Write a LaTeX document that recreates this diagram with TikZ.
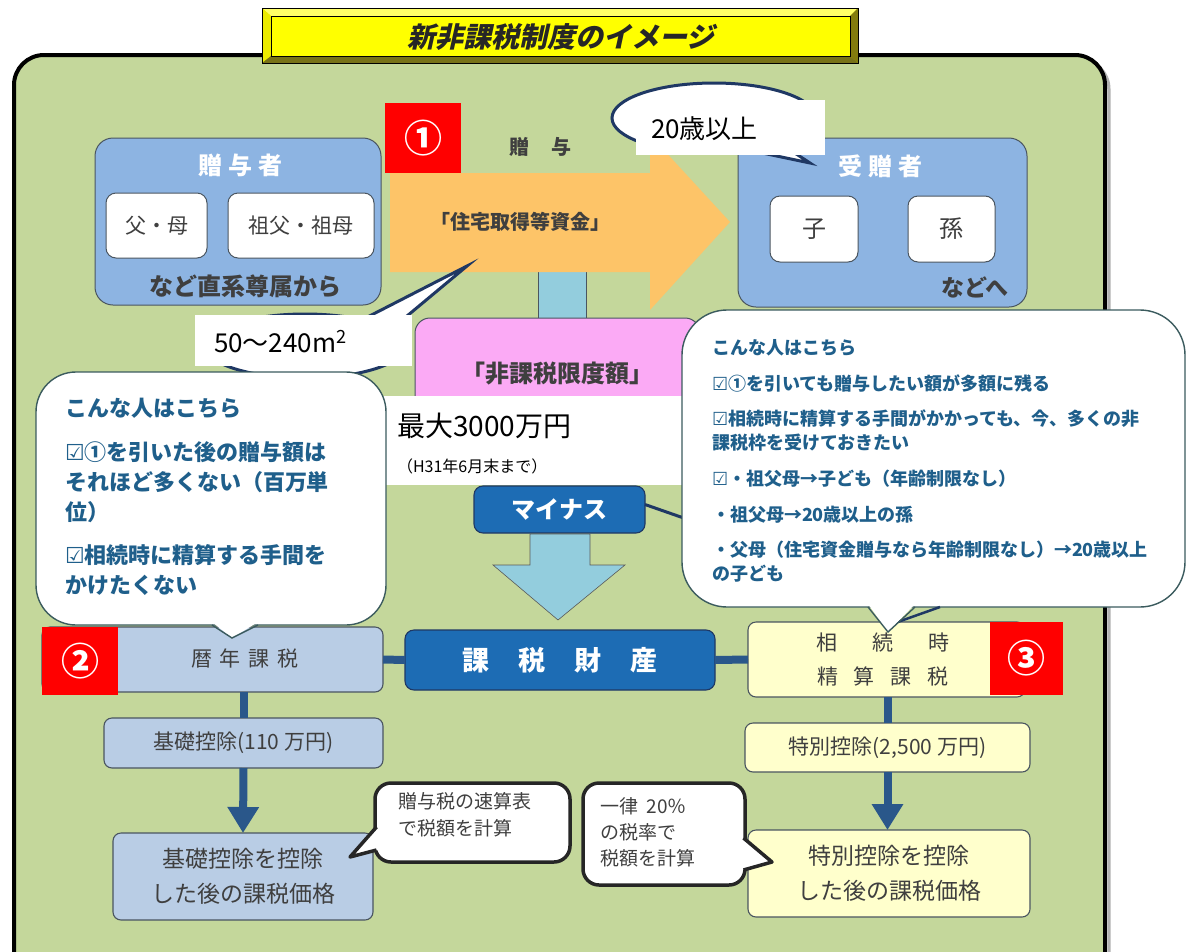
\documentclass[tikz,border=0pt]{standalone}
\usepackage{fontspec}
\setmainfont{Noto Sans CJK JP}
\newfontfamily\dv{DejaVu Sans}
\newfontfamily\jpslant{Noto Sans CJK JP}[FakeSlant=0.22]
\usetikzlibrary{arrows.meta,calc}
\definecolor{bggreen}{HTML}{C4D79B}
\definecolor{donor}{HTML}{8DB4E2}
\definecolor{ltblue}{HTML}{B9CDE5}
\definecolor{dkblue}{HTML}{1D6CB4}
\definecolor{navy}{HTML}{1F3864}
\definecolor{barblue}{HTML}{2A578A}
\definecolor{ltyel}{HTML}{FFFFCC}
\definecolor{orng}{HTML}{FDC468}
\definecolor{pinkc}{HTML}{FBAAF5}
\definecolor{cyanc}{HTML}{93CDDD}
\definecolor{tealtxt}{HTML}{1F5F8B}
\definecolor{txt}{HTML}{3F3F3F}
\definecolor{edge}{HTML}{4A5560}
\definecolor{cedge}{HTML}{3B5B5E}
\definecolor{ttlyel}{HTML}{FFFF00}
\newcommand{\fsz}[1]{\fontsize{#1}{#1}\selectfont}
\newcommand{\chk}{{\dv ☑}}
\begin{document}
\begin{tikzpicture}[x=1pt,y=-1pt,
  every node/.style={inner sep=0pt,outer sep=0pt},
  bluebox/.style={draw=edge,fill=donor,line width=1pt,rounded corners=18pt},
  wbox/.style={draw=edge,fill=white,line width=1pt,rounded corners=10pt,text=txt},
  ltbox/.style={draw=edge,fill=ltblue,line width=1.1pt,rounded corners=8pt,text=txt,align=center},
  ybox/.style={draw=edge,fill=ltyel,line width=1.1pt,rounded corners=8pt,text=txt,align=center},
  dkbox/.style={draw=navy,fill=dkblue,line width=1.1pt,rounded corners=9pt,text=white},
  redsq/.style={fill=red,text=white,font=\bfseries\fsz{38}},
  bar/.style={draw=barblue,line width=8pt},
  callbox/.style={draw=black!85,fill=white,line width=3.5pt,rounded corners=16pt},
  bigcall/.style={draw=cedge,fill=white,line width=1.4pt},
  lt/.style={anchor=west,text=tealtxt,font=\bfseries\fsz{22}},
  rt/.style={anchor=west,text=tealtxt,font=\bfseries\fsz{18}},
]
\useasboundingbox (0,0) rectangle (1200,951);
\fill[white] (0,0) rectangle (1200,951);
% green panel
\draw[gray!60,line width=3pt,rounded corners=30pt] (18,59) rectangle (1109,1010);
\draw[black,fill=bggreen,line width=4pt,rounded corners=30pt] (14,55) rectangle (1105,1010);

% title
\fill[ttlyel!70!olive] (262,8) rectangle (858,63);
\fill[ttlyel!60!white] (262,8) -- (858,8) -- (850,16) -- (271,16) -- cycle;
\fill[ttlyel!85!olive] (262,8) -- (271,16) -- (271,56) -- (262,63) -- cycle;
\fill[olive!90!black] (858,8) -- (858,63) -- (850,56) -- (850,16) -- cycle;
\fill[olive!80!black] (262,63) -- (858,63) -- (850,56) -- (271,56) -- cycle;
\draw[black,line width=0.8pt] (262,8) rectangle (858,63);
\node[draw=black,line width=0.6pt,fill=ttlyel,minimum width=579pt,minimum height=40pt] (titlebox) at (560.5,36) {};
\node[font=\jpslant\bfseries\fsz{28},text=black!85] (title) at (561,37) {新非課税制度のイメージ};

% donor box
\node[bluebox,minimum width=286pt,minimum height=167pt] (donor) at (238,221.5) {};
\node[text=white,font=\bfseries\fsz{24}] (donorT) at (240,165) {贈\hspace{6pt}与\hspace{6pt}者};
\node[wbox,minimum width=101pt,minimum height=65pt,font=\fsz{21}] (fubo) at (156.5,225.5) {父・母};
\node[wbox,minimum width=146pt,minimum height=65pt,font=\fsz{21}] (sofubo) at (301,225.5) {祖父・祖母};
\node[text=txt,font=\bfseries\fsz{24}] (donorB) at (245,286) {など直系尊属から};

% donee box
\node[bluebox,minimum width=289pt,minimum height=169pt] (donee) at (882.5,222.5) {};
\node[text=white,font=\bfseries\fsz{24}] (doneeT) at (880,166) {受\hspace{6pt}贈\hspace{6pt}者};
\node[wbox,minimum width=88pt,minimum height=66pt,font=\fsz{24}] (ko) at (814,229) {子};
\node[wbox,minimum width=87pt,minimum height=66pt,font=\fsz{24}] (mago) at (951.5,229) {孫};
\node[text=txt,font=\bfseries\fsz{23}] (doneeB) at (975,287) {などへ};

% light blue bar under the arrow
\draw[fill=cyanc,draw=edge,line width=0.8pt] (538,268) rectangle (586,322);

% orange arrow
\fill[orng] (390,173) -- (650,173) -- (650,135) -- (730,222) -- (650,310) -- (650,272) -- (390,272) -- cycle;
\node[text=txt,font=\bfseries\fsz{20}] (fund) at (520,222) {「住宅取得等資金」};
\node[redsq,minimum width=76pt,minimum height=70pt] (r1) at (423,138) {①};
\node[text=txt,font=\bfseries\fsz{20}] (zoyo) at (540,147) {贈\hspace{22pt}与};

% 20 years bubble
\coordinate (agetip) at (810,163);
\draw[navy,line width=3pt,fill=white] (772,138) -- (agetip) -- (748,150);
\draw[navy,line width=3pt,fill=white] (714,118) ellipse [x radius=102, y radius=35];
\node[fill=white,minimum width=189pt,minimum height=55pt] (agebox) at (730.5,127.5) {};
\node[anchor=west,font=\fsz{26},text=black] (age) at (651,129) {20歳以上};

% area bubble
\coordinate (areatip) at (467,266);
\draw[navy,line width=3pt,fill=white] (350,326) -- (areatip) -- (395,326);
\draw[navy,line width=3pt,fill=white] (305,346) ellipse [x radius=100, y radius=32];
\node[fill=white,minimum width=217pt,minimum height=51pt] (areabox) at (303.5,340.5) {};
\node[anchor=west,font=\fsz{26},text=black] (area) at (214,342) {50〜240m\textsuperscript{2}};

% pink limit box
\node[draw=edge,fill=pinkc,line width=1pt,rounded corners=15pt,minimum width=285pt,minimum height=102pt] (limit) at (557.5,369) {};
\node[text=txt,font=\bfseries\fsz{24}] (limitT) at (557,374) {「非課税限度額」};
\node[fill=white,minimum width=315pt,minimum height=89pt] (maxbox) at (540,440.5) {};
\node[anchor=west,font=\fsz{28},text=black] (maxT) at (397,426) {最大3000万円};
\node[anchor=west,font=\fsz{16},text=black] (maxS) at (397,466) {（H31年6月末まで）};

% minus
\node[dkbox,minimum width=171pt,minimum height=47pt,font=\bfseries\fsz{24}] (minus) at (559.5,509.5) {マイナス};
\coordinate (mtail) at (698,523);
\draw[navy,line width=3pt] ($(minus.east)+(0,-5)$) -- (mtail);
\draw[fill=cyanc,draw=gray!70!black,line width=0.6pt] (530,534) -- (590,534) -- (590,565) -- (625,565) -- (558,620) -- (493,565) -- (530,565) -- cycle;

% taxable property
\node[dkbox,minimum width=310pt,minimum height=60pt,font=\bfseries\fsz{27}] (kazei) at (560,660) {課\hspace{29pt}税\hspace{29pt}財\hspace{29pt}産};

% left branch
\node[ltbox,minimum width=341pt,minimum height=65pt] (rekinen) at (212.5,659.5) {};
\node[text=txt,font=\fsz{21}] (rekinenT) at (245,658) {暦\hspace{8pt}年\hspace{8pt}課\hspace{8pt}税};
\node[redsq,minimum width=76pt,minimum height=68pt] (r2) at (80,661) {②};
\node[ltbox,minimum width=279pt,minimum height=50pt,font=\fsz{21}] (kiso) at (243.5,743) {基礎控除(110 万円)};
\node[ltbox,minimum width=260pt,minimum height=87pt,font=\fontsize{23}{35}\selectfont] (kisoA) at (243,876.5) {基礎控除を控除\\した後の課税価格};
\draw[bar] (rekinen.east) -- (kazei.west);
\draw[bar] (kiso.north |- rekinen.south) -- (kiso.north);
\draw[bar,-{Triangle[width=30pt,length=26pt]}] (kiso.south) -- (kisoA.north);

% right branch
\node[ybox,minimum width=277pt,minimum height=75pt] (sozoku) at (886.5,659.5) {};
\node[text=txt,font=\fontsize{21}{34}\selectfont,align=center] (sozokuT) at (883,660) {相\hspace{35pt}続\hspace{35pt}時\\精\hspace{16pt}算\hspace{16pt}課\hspace{16pt}税};
\node[redsq,minimum width=73pt,minimum height=73pt] (r3) at (1026.5,658.5) {③};
\node[ybox,minimum width=285pt,minimum height=49pt,font=\fsz{21}] (toku) at (887.5,747.5) {特別控除(2,500 万円)};
\node[ybox,minimum width=282pt,minimum height=87pt,font=\fontsize{23}{35}\selectfont] (tokuA) at (889,873.5) {特別控除を控除\\した後の課税価格};
\draw[bar] (kazei.east) -- (sozoku.west);
\draw[bar] (toku.north |- sozoku.south) -- (toku.north);
\draw[bar,-{Triangle[width=30pt,length=26pt]}] (toku.south) -- (toku.south |- tokuA.north);

% small callouts
\node[callbox,minimum width=195pt,minimum height=79pt] (sokusan) at (472.5,822.5) {};
\coordinate (soktip) at (350,857);
\fill[white] (378,827) -- (soktip) -- (378,850) -- cycle;
\draw[black!85,line width=3.5pt,line join=round] (376.5,827) -- (soktip) -- (376.5,850);
\node[anchor=north west,text=txt,font=\fontsize{19}{27}\selectfont,align=left] (sokusanT) at (398,792) {贈与税の速算表\\で税額を計算};

\node[callbox,minimum width=162pt,minimum height=102pt] (ichiritsu) at (664,834) {};
\coordinate (ichtip) at (772,862);
\fill[white] (742,838) -- (ichtip) -- (742,870) -- cycle;
\draw[black!85,line width=3.5pt,line join=round] (743.5,838) -- (ichtip) -- (743.5,870);
\node[anchor=north west,text=txt,font=\fontsize{19}{26}\selectfont,align=left] (ichiritsuT) at (600,798) {一律\ \ 20％\\の税率で\\税額を計算};

% left big callout
\node[bigcall,rounded corners=40pt,minimum width=350pt,minimum height=253pt] (lc) at (211,498.5) {};
\coordinate (lctip) at (232,638);
\fill[white] (212,622) -- (lctip) -- (258,622) -- cycle;
\draw[cedge,line width=1.4pt] (212,625) -- (lctip) -- (258,625);
\node[lt] (l1) at (65,408) {こんな人はこちら};
\node[lt] (l2) at (65,452) {\chk①を引いた後の贈与額は};
\node[lt] (l3) at (65,482) {それほど多くない（百万単};
\node[lt] (l4) at (65,512) {位）};
\node[lt] (l5) at (65,555) {\chk 相続時に精算する手間を};
\node[lt] (l6) at (65,585) {かけたくない};

% right big callout
\node[bigcall,rounded corners=45pt,minimum width=503pt,minimum height=297pt] (rc) at (933.5,458.5) {};
\coordinate (rctip) at (888,632);
\draw[navy,line width=2.5pt] (892,624) -- (940,607);
\fill[white] (868,604) -- (rctip) -- (915,604) -- cycle;
\draw[cedge,line width=1.4pt] (868,607) -- (rctip) -- (915,607);
\node[rt] (r_1) at (712,348) {こんな人はこちら};
\node[rt] (r_2) at (712,383) {\chk①を引いても贈与したい額が多額に残る};
\node[rt] (r_3) at (712,419) {\chk 相続時に精算する手間がかかっても、今、多くの非};
\node[rt] (r_4) at (712,443) {課税枠を受けておきたい};
\node[rt] (r_5) at (712,479) {\chk・祖父母→子ども（年齢制限なし）};
\node[rt] (r_6) at (712,515) {・祖父母→20歳以上の孫};
\node[rt] (r_7) at (712,550) {・父母（住宅資金贈与なら年齢制限なし）→20歳以上};
\node[rt] (r_8) at (712,574) {の子ども};
\end{tikzpicture}
\end{document}
